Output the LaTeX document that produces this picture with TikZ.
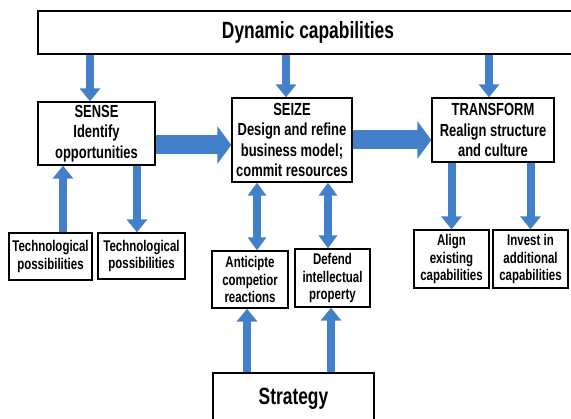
\documentclass[tikz,border=0pt]{standalone}
\usepackage{fontspec}
\setmainfont[FakeStretch=0.74]{Liberation Sans}
\usetikzlibrary{arrows.meta}
\definecolor{capblue}{RGB}{66,129,201}

\begin{document}
\begin{tikzpicture}[x=1pt,y=-1pt,
		capbox/.style={draw,line width=1.3pt,fill=white,align=center,inner sep=0pt},
		titlefont/.style={font=\fontsize{23.5}{27}\selectfont\bfseries},
		mainfont/.style={font=\fontsize{17.5}{20.5}\selectfont\bfseries},
		smallfont/.style={font=\fontsize{15.5}{17.5}\selectfont\bfseries},
		thinarrow/.style={capblue,line width=8pt,-{Triangle[width=20pt,length=13pt]}},
		twoway/.style={capblue,line width=8pt,{Triangle[width=18pt,length=13pt]}-{Triangle[width=18pt,length=13pt]}},
		fatarrow/.style={capblue,line width=19pt,-{Triangle[width=37pt,length=14pt]}}]
			\useasboundingbox (0,0) rectangle (571,419);
			% top and bottom
			\node[capbox,titlefont,minimum width=540pt,minimum height=43pt] (dyn) at (308,32.5) {Dynamic capabilities};
			\node[capbox,titlefont,minimum width=161pt,minimum height=52pt] (strategy) at (293.5,399) {Strategy};
			% the three stages
			\node[capbox,mainfont,minimum width=117pt,minimum height=63pt] (sense) at (96.5,133.5) {SENSE\\Identify\\opportunities};
			\node[capbox,mainfont,minimum width=120pt,minimum height=84pt] (seize) at (292,140) {SEIZE\\Design and refine\\business model;\\commit resources};
			\node[capbox,mainfont,minimum width=122pt,minimum height=64pt] (transform) at (493,130) {TRANSFORM\\Realign structure\\and culture};
			% lower boxes
			\node[capbox,smallfont,minimum width=83pt,minimum height=47pt] (techa) at (50.5,256.5) {Technological\\possibilities};
			\node[capbox,smallfont,minimum width=87pt,minimum height=46pt] (techb) at (141.5,256) {Technological\\possibilities};
			\node[capbox,smallfont,minimum width=76pt,minimum height=57pt] (antic) at (250,279.5) {Anticipte\\competior\\reactions};
			\node[capbox,smallfont,minimum width=75pt,minimum height=58pt] (defend) at (332.5,278) {Defend\\intellectual\\property};
			\node[capbox,smallfont,minimum width=75pt,minimum height=58pt] (align) at (451.5,259) {Align\\existing\\capabilities};
			\node[capbox,smallfont,minimum width=75pt,minimum height=58pt] (invest) at (530.5,259) {Invest in\\additional\\capabilities};
			\coordinate (senseout) at ([yshift=-11.5pt]sense.east);
			% arrows
			\draw[thinarrow] ([xshift=-6.5pt]sense.north |- dyn.south) -- ([xshift=-6.5pt]sense.north);
			\draw[thinarrow] ([xshift=-6pt]seize.north |- dyn.south) -- ([xshift=-6pt]seize.north);
			\draw[thinarrow] ([xshift=-4pt]transform.north |- dyn.south) -- ([xshift=-4pt]transform.north);
			\draw[fatarrow] (senseout) -- (seize.west |- senseout);
			\draw[fatarrow] (seize.east) -- (transform.west |- seize.east);
			\draw[thinarrow] ([xshift=12.5pt]techa.north) -- ([xshift=12.5pt]techa.north |- sense.south);
			\draw[thinarrow] ([xshift=-4.5pt]techb.north |- sense.south) -- ([xshift=-4.5pt]techb.north);
			\draw[twoway] ([xshift=7pt]antic.north |- seize.south) -- ([xshift=7pt]antic.north);
			\draw[twoway] ([xshift=-4.5pt]defend.north |- seize.south) -- ([xshift=-4.5pt]defend.north);
			\draw[thinarrow] ([xshift=-3pt]antic.south |- strategy.north) -- ([xshift=-3pt]antic.south);
			\draw[thinarrow] ([xshift=-1.5pt]defend.south |- strategy.north) -- ([xshift=-1.5pt]defend.south);
			\draw[thinarrow] (align.north |- transform.south) -- (align.north);
			\draw[thinarrow] (invest.north |- transform.south) -- (invest.north);
		\end{tikzpicture}
\end{document}
